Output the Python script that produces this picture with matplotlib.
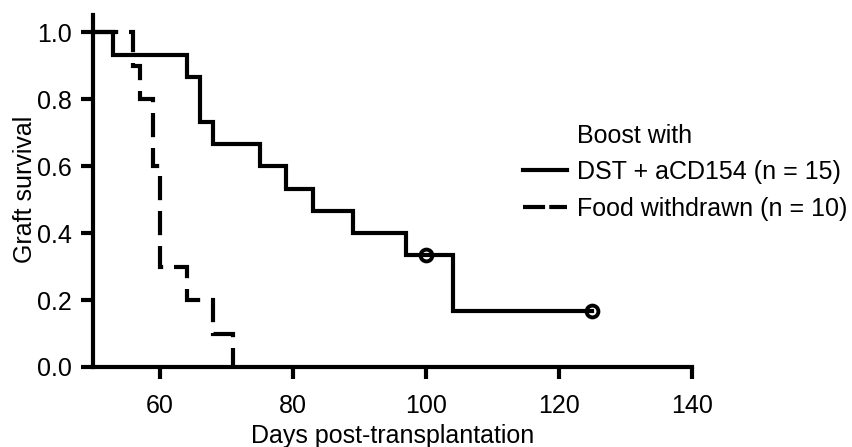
import matplotlib
matplotlib.use("Agg")
import matplotlib.pyplot as plt
from matplotlib.lines import Line2D

plt.rcParams['font.family'] = ['Liberation Sans', 'DejaVu Sans']

# Kaplan-Meier step data (day, survival fraction after the event)
dst_days = [50, 53, 64, 66, 68, 75, 79, 83, 89, 97, 104, 125]
dst_surv = [1.0, 14/15, 13/15, 11/15, 10/15, 9/15, 8/15, 7/15, 6/15, 5/15, 5/30, 5/30]
dst_cens_days = [100, 125]
dst_cens_surv = [5/15, 5/30]

food_days = [50, 56, 57, 59, 60, 64, 68, 71]
food_surv = [1.0, 0.9, 0.8, 0.6, 0.3, 0.2, 0.1, 0.0]

x_ticks = [60, 80, 100, 120, 140]
y_ticks = [0.0, 0.2, 0.4, 0.6, 0.8, 1.0]

legend_title = "Boost with"
dst_label = "DST + aCD154 (n = 15)"
food_label = "Food withdrawn (n = 10)"

W, H = 853, 447
fig = plt.figure(figsize=(W / 100, H / 100), dpi=100)
left, right, bottom, top = 93.5, 692, 367, 15
ax = fig.add_axes([left / W, 1 - bottom / H, (right - left) / W, (bottom - top) / H])

LW = 3.0
FS = 18

ax.plot(dst_days, dst_surv, drawstyle='steps-post', color='black', lw=LW,
        solid_joinstyle='miter')
ax.plot(dst_cens_days, dst_cens_surv, linestyle='none', marker='o', ms=8.5,
        mfc='none', mec='black', mew=2.8)
ax.plot(food_days, food_surv, drawstyle='steps-post', color='black', lw=LW,
        linestyle=(0, (5.8, 2.6)), dash_capstyle='butt', dash_joinstyle='miter')

ax.set_xlim(50, 140)
ax.set_ylim(0, 1.052)
ax.set_xticks(x_ticks)
ax.set_yticks(y_ticks)
ax.set_yticklabels([f"{v:.1f}" for v in y_ticks])

for side in ('top', 'right'):
    ax.spines[side].set_visible(False)
for side in ('left', 'bottom'):
    ax.spines[side].set_linewidth(LW)
ax.tick_params(axis='both', direction='out', length=8.6, width=LW, labelsize=FS)
ax.tick_params(axis='y', pad=7)
ax.tick_params(axis='x', pad=11)

ax.set_xlabel("Days post-transplantation", fontsize=FS, va='center')
ax.xaxis.set_label_coords(0.5, -0.196)
ax.set_ylabel("Graft survival", fontsize=FS, va='center')
ax.yaxis.set_label_coords(-0.115, 0.506)

handles = [
    Line2D([], [], color='black', lw=LW),
    Line2D([], [], color='black', lw=LW, linestyle=(0, (5.3, 1.0))),
]
fig.legend(handles, [dst_label, food_label], loc='upper left',
           bbox_to_anchor=(523 / W, 1 - 160 / H), frameon=False, fontsize=FS,
           handlelength=1.75, handletextpad=0.4, labelspacing=0.52,
           borderpad=0, borderaxespad=0)
fig.text(577 / W, 1 - 136 / H, legend_title, fontsize=FS, ha='left', va='center')

fig.savefig("out.png", dpi=100)
